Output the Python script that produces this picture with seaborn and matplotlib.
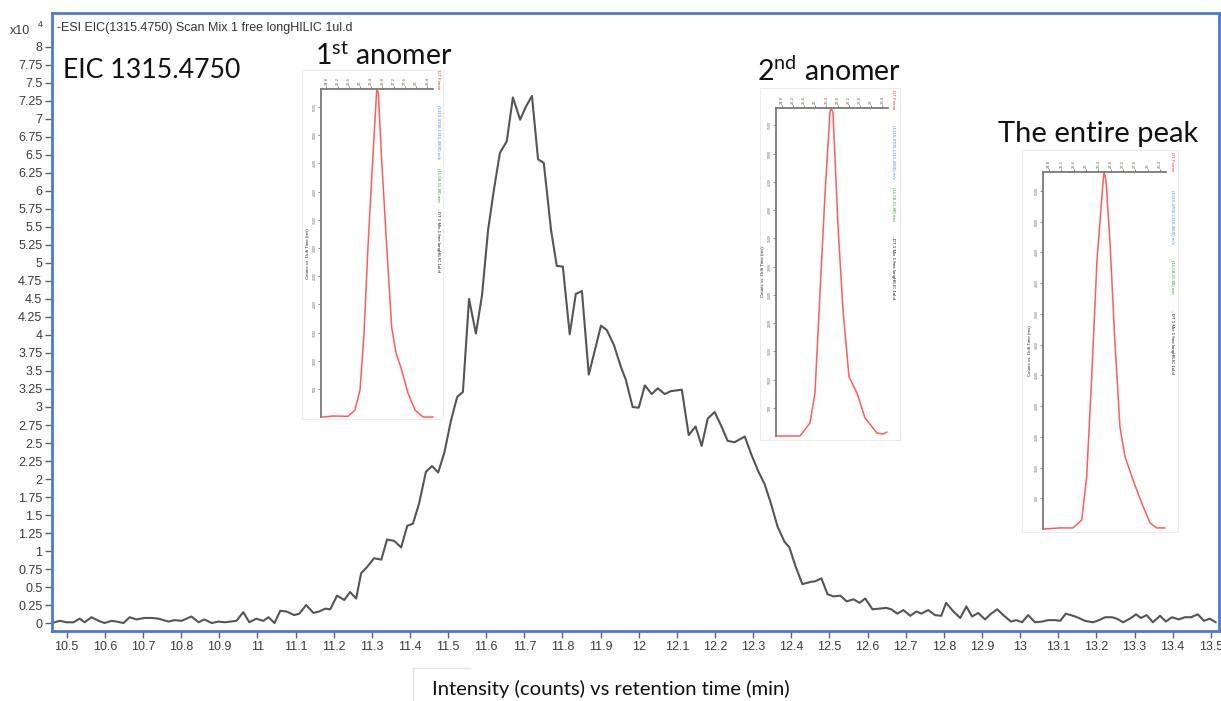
import numpy as np
import pandas as pd
import matplotlib
matplotlib.use("Agg")
import matplotlib.pyplot as plt
import seaborn as sns
from matplotlib.lines import Line2D
from matplotlib.patches import Rectangle

# ---------------------------------------------------------------------------
# Extracted ion chromatogram, m/z 1315.4750 (intensity in units of 10^4 counts)
# ---------------------------------------------------------------------------
rt_min = [
    10.461, 10.482, 10.500, 10.518, 10.534, 10.547, 10.565, 10.584, 10.599, 10.618,
    10.631, 10.649, 10.665, 10.683, 10.704, 10.723, 10.741, 10.767, 10.783, 10.801,
    10.827, 10.846, 10.861, 10.880, 10.898, 10.914, 10.945, 10.963, 10.979, 10.997,
    11.016, 11.029, 11.045, 11.060, 11.076, 11.097, 11.110, 11.128, 11.147, 11.162,
    11.178, 11.191, 11.209, 11.228, 11.243, 11.259, 11.272, 11.288, 11.306, 11.325,
    11.340, 11.359, 11.377, 11.393, 11.408, 11.424, 11.442, 11.458, 11.474, 11.490,
    11.508, 11.524, 11.539, 11.555, 11.573, 11.589, 11.605, 11.620, 11.636, 11.654,
    11.670, 11.689, 11.704, 11.720, 11.736, 11.751, 11.770, 11.785, 11.801, 11.819,
    11.835, 11.851, 11.869, 11.901, 11.916, 11.935, 11.953, 11.966, 11.984, 12.000,
    12.016, 12.034, 12.050, 12.068, 12.084, 12.113, 12.131, 12.149, 12.165, 12.181,
    12.199, 12.217, 12.233, 12.251, 12.278, 12.296, 12.314, 12.330, 12.346, 12.364,
    12.382, 12.395, 12.411, 12.429, 12.450, 12.463, 12.479, 12.495, 12.510, 12.529,
    12.545, 12.563, 12.579, 12.594, 12.613, 12.631, 12.649, 12.662, 12.678, 12.694,
    12.712, 12.728, 12.741, 12.759, 12.777, 12.793, 12.806, 12.825, 12.843, 12.859,
    12.874, 12.890, 12.908, 12.924, 12.940, 12.958, 12.976, 12.990, 13.005, 13.021,
    13.039, 13.058, 13.073, 13.092, 13.105, 13.120, 13.139, 13.154, 13.170, 13.191,
    13.207, 13.223, 13.241, 13.254, 13.270, 13.288, 13.304, 13.317, 13.332, 13.348,
    13.367, 13.382, 13.398, 13.416, 13.432, 13.448, 13.466, 13.482, 13.497, 13.513,
]
intensity_e4 = [
    0.00, 0.03, 0.01, 0.01, 0.06, 0.01, 0.08, 0.03, 0.00, 0.03,
    0.02, 0.00, 0.08, 0.05, 0.07, 0.07, 0.06, 0.02, 0.04, 0.03,
    0.09, 0.01, 0.05, 0.00, 0.02, 0.01, 0.03, 0.15, 0.01, 0.06,
    0.03, 0.08, 0.00, 0.17, 0.16, 0.11, 0.13, 0.25, 0.14, 0.16,
    0.20, 0.19, 0.38, 0.32, 0.43, 0.34, 0.69, 0.78, 0.90, 0.88,
    1.16, 1.14, 1.05, 1.35, 1.38, 1.66, 2.10, 2.18, 2.09, 2.36,
    2.82, 3.14, 3.21, 4.50, 4.02, 4.55, 5.46, 6.01, 6.53, 6.69,
    7.30, 6.99, 7.17, 7.32, 6.44, 6.39, 5.46, 4.96, 4.95, 4.01,
    4.57, 4.61, 3.45, 4.13, 4.07, 3.86, 3.56, 3.38, 3.00, 2.99,
    3.30, 3.18, 3.26, 3.18, 3.22, 3.24, 2.61, 2.73, 2.46, 2.84,
    2.93, 2.73, 2.53, 2.51, 2.59, 2.33, 2.10, 1.93, 1.67, 1.34,
    1.13, 1.05, 0.79, 0.54, 0.57, 0.58, 0.62, 0.40, 0.37, 0.38,
    0.30, 0.33, 0.28, 0.34, 0.19, 0.20, 0.21, 0.19, 0.13, 0.18,
    0.10, 0.16, 0.13, 0.18, 0.11, 0.10, 0.28, 0.16, 0.07, 0.23,
    0.09, 0.14, 0.05, 0.13, 0.19, 0.10, 0.02, 0.04, 0.01, 0.11,
    0.01, 0.02, 0.04, 0.04, 0.03, 0.13, 0.10, 0.07, 0.03, 0.01,
    0.04, 0.08, 0.08, 0.06, 0.01, 0.06, 0.12, 0.07, 0.11, 0.01,
    0.10, 0.02, 0.08, 0.05, 0.08, 0.08, 0.12, 0.03, 0.06, 0.01,
]

x_ticks = [10.5, 10.6, 10.7, 10.8, 10.9, 11.0, 11.1, 11.2, 11.3, 11.4, 11.5,
           11.6, 11.7, 11.8, 11.9, 12.0, 12.1, 12.2, 12.3, 12.4, 12.5, 12.6,
           12.7, 12.8, 12.9, 13.0, 13.1, 13.2, 13.3, 13.4, 13.5]
x_tick_labels = ["10.5", "10.6", "10.7", "10.8", "10.9", "11", "11.1", "11.2",
                 "11.3", "11.4", "11.5", "11.6", "11.7", "11.8", "11.9", "12",
                 "12.1", "12.2", "12.3", "12.4", "12.5", "12.6", "12.7", "12.8",
                 "12.9", "13", "13.1", "13.2", "13.3", "13.4", "13.5"]
y_ticks = [0, 0.25, 0.5, 0.75, 1, 1.25, 1.5, 1.75, 2, 2.25, 2.5, 2.75, 3, 3.25,
           3.5, 3.75, 4, 4.25, 4.5, 4.75, 5, 5.25, 5.5, 5.75, 6, 6.25, 6.5,
           6.75, 7, 7.25, 7.5, 7.75, 8]
y_tick_labels = ["0", "0.25", "0.5", "0.75", "1", "1.25", "1.5", "1.75", "2",
                 "2.25", "2.5", "2.75", "3", "3.25", "3.5", "3.75", "4", "4.25",
                 "4.5", "4.75", "5", "5.25", "5.5", "5.75", "6", "6.25", "6.5",
                 "6.75", "7", "7.25", "7.5", "7.75", "8"]

# ---------------------------------------------------------------------------
# Drift-time profiles (relative drift time, intensity in % of the apex)
# ---------------------------------------------------------------------------
dt_first = [0.0, 1.1, 2.43, 3.05, 3.5, 3.86, 4.21, 4.63, 4.99, 5.13, 5.43,
            5.88, 6.32, 6.71, 7.21, 7.77, 8.4, 9.11, 10.0]
pct_first = [0.0, 0.4, 0.3, 2.2, 8.3, 25.7, 51.9, 78.4, 100.0, 99.0, 78.4,
             51.9, 27.5, 19.6, 14.4, 7.4, 2.2, 0.1, 0.1]

dt_second = [0.0, 2.14, 3.04, 3.48, 3.93, 4.38, 4.82, 4.91, 5.09, 5.54, 5.98,
             6.52, 7.23, 7.95, 9.02, 9.55, 9.91]
pct_second = [0.0, 0.0, 4.0, 13.1, 43.6, 74.0, 98.4, 100.0, 98.4, 63.7, 38.4,
              18.0, 13.1, 5.5, 0.9, 0.6, 1.2]

dt_entire = [0.0, 1.38, 2.44, 3.15, 3.55, 3.96, 4.39, 4.85, 4.96, 5.12, 5.45,
             5.85, 6.26, 6.67, 7.32, 8.02, 8.7, 9.24, 9.92]
pct_entire = [0.0, 0.3, 0.3, 2.5, 14.6, 42.5, 75.3, 95.7, 100.0, 97.7, 80.0,
              52.1, 28.5, 20.2, 13.7, 7.3, 1.7, 0.3, 0.3]

inset_dt_ticks = [0.5, 1.5, 2.5, 3.5, 4.5, 5.5, 6.5, 7.5, 8.5, 9.5]
inset_dt_labels = ["24.8", "25.2", "25.6", "26", "26.4", "26.8", "27.2",
                   "27.6", "28", "28.4"]
inset_legend = [
    ("DT Frame", "#ff2a2a"),
    ("(1315.4700-1315.4800) m/z", "#3d8bff"),
    ("(11.58-11.80) min", "#2e9a2e"),
    ("- DT 1 Mix 1 free longHILIC 1ul.d", "#111111"),
]

# ---------------------------------------------------------------------------
sns.set_theme(style="white")
plt.rcParams["font.family"] = ["Liberation Sans", "DejaVu Sans"]
plt.rcParams["mathtext.fontset"] = "custom"
plt.rcParams["mathtext.rm"] = "Lato"
plt.rcParams["mathtext.it"] = "Lato:italic"
plt.rcParams["mathtext.bf"] = "Lato:bold"

W, H = 1221, 701
fig = plt.figure(figsize=(W / 100, H / 100), dpi=100)
fig.patch.set_facecolor("white")


def fig_rect(left, top, right, bottom):
    """Figure-fraction rectangle from pixel edges (origin top-left)."""
    return [left / W, 1 - bottom / H, (right - left) / W, (bottom - top) / H]


frame_blue = "#4a7bd0"
tick_gray = "#606060"
label_gray = "#3a3a3a"

# --- main chromatogram ------------------------------------------------------
ax = fig.add_axes(fig_rect(52, 13, 1219, 631))
eic = pd.DataFrame({"rt": rt_min, "counts": intensity_e4})
sns.lineplot(data=eic, x="rt", y="counts", ax=ax, color="#555555",
             linewidth=1.5, estimator=None, sort=False)
ax.set_xlim(10.4615, 13.5215)
ax.set_ylim(-0.111, 8.472)
ax.set_xlabel("")
ax.set_ylabel("")
for side in ax.spines.values():
    side.set_visible(True)
    side.set_color(frame_blue)
    side.set_linewidth(2.0)
ax.set_xticks(x_ticks)
ax.set_xticklabels(x_tick_labels)
ax.set_yticks(y_ticks)
ax.set_yticklabels(y_tick_labels)
ax.tick_params(axis="both", direction="out", length=5, width=1.0,
               color=tick_gray, labelcolor=label_gray, labelsize=9, pad=2,
               left=True, bottom=True)
for lab in ax.get_xticklabels() + ax.get_yticklabels():
    lab.set_family(["Liberation Sans Narrow", "Liberation Sans", "DejaVu Sans"])
ax.grid(False)

ax.text(0.004, 0.985, "-ESI EIC(1315.4750) Scan Mix 1 free longHILIC 1ul.d",
        transform=ax.transAxes, ha="left", va="top", fontsize=9,
        color="#333333")
fig.text(10 / W, 1 - 34 / H, "x10", fontsize=9, color=label_gray,
         ha="left", va="baseline")
fig.text(38 / W, 1 - 27 / H, "4", fontsize=6.5, color=label_gray,
         ha="left", va="baseline")

big = ["Lato", "DejaVu Sans"]
fig.text(63 / W, 1 - 77.5 / H, "EIC 1315.4750", fontsize=19.2, family=big,
         color="#111111", ha="left", va="baseline")
fig.text(315 / W, 1 - 65 / H, r"1$^{\mathrm{st}}$ anomer", fontsize=20.5,
         family=big, color="#111111", ha="left", va="baseline")
fig.text(757 / W, 1 - 81 / H, r"2$^{\mathrm{nd}}$ anomer", fontsize=20.5,
         family=big, color="#111111", ha="left", va="baseline")
fig.text(998 / W, 1 - 142 / H, "The entire peak", fontsize=21,
         family=big, color="#111111", ha="left", va="baseline")
fig.text(432 / W, 1 - 695 / H, "Intensity (counts) vs retention time (min)",
         fontsize=14.6, family=big, color="#111111", ha="left",
         va="baseline")

# faint edge of a caption box under the axis
fig.add_artist(Line2D([413 / W, 413 / W], [1 - 668 / H, 0.0],
                      transform=fig.transFigure, color="#dedede", lw=1.0))
fig.add_artist(Line2D([413 / W, 470 / W], [1 - 668 / H, 1 - 668 / H],
                      transform=fig.transFigure, color="#e6e6e6", lw=1.0))


# --- drift-time insets ------------------------------------------------------
def drift_inset(box, axes_px, dt, pct, legend_x, legend_tops):
    # light frame of the pasted panel
    fig.add_artist(Rectangle((box[0] / W, 1 - box[3] / H),
                             (box[2] - box[0]) / W, (box[3] - box[1]) / H,
                             transform=fig.transFigure, facecolor="white",
                             edgecolor="#ececec", lw=0.8, zorder=2))
    iax = fig.add_axes(fig_rect(*axes_px), zorder=3)
    iax.set_facecolor("none")
    prof = pd.DataFrame({"dt": dt, "pct": pct})
    sns.lineplot(data=prof, x="dt", y="pct", ax=iax, color="#ff4a4a",
                 linewidth=1.1, alpha=0.9, estimator=None, sort=False)
    for ln in iax.get_lines():
        ln.set_clip_on(False)
    iax.set_xlim(0, 10)
    iax.set_ylim(0, 100)
    iax.spines["right"].set_visible(False)
    iax.spines["bottom"].set_visible(False)
    for s in ("left", "top"):
        iax.spines[s].set_visible(True)
        iax.spines[s].set_color("#7a7a7a")
        iax.spines[s].set_linewidth(1.3)
    iax.xaxis.tick_top()
    iax.set_xticks(inset_dt_ticks)
    iax.set_xticklabels(inset_dt_labels, rotation=90, fontsize=3,
                        color="#6b5a3a")
    ytk = [8.6 * k for k in range(1, 12)]
    iax.set_yticks(ytk)
    iax.set_yticklabels([f"{500 * k}" for k in range(1, 12)], rotation=90,
                        fontsize=2.6, color="#5a6a7a", va="center")
    iax.tick_params(axis="both", direction="out", length=2, width=0.6,
                    color="#7a7a7a", pad=1, top=True, left=True,
                    bottom=False, right=False)
    iax.set_xlabel("")
    iax.set_ylabel("Counts vs. Drift Time (ms)", fontsize=3.2, labelpad=2,
                   color="#222222")
    iax.grid(False)
    for (txt, col), top in zip(inset_legend, legend_tops):
        fig.text(legend_x / W, 1 - top / H, txt, rotation=270, fontsize=3.2,
                 color=col, ha="center", va="top", zorder=4)


drift_inset((302, 70, 443, 419), (320.7, 89.3, 433, 417.3),
            dt_first, pct_first, 438, [70, 105, 168, 208])
drift_inset((760, 88, 900, 440), (776, 107.7, 888, 436),
            dt_second, pct_second, 893, [90, 125, 187, 235])
drift_inset((1022, 150, 1178, 532), (1043, 171.7, 1166, 529),
            dt_entire, pct_entire, 1172, [152, 190, 260, 310])

fig.savefig("out.png", dpi=100, facecolor="white")
